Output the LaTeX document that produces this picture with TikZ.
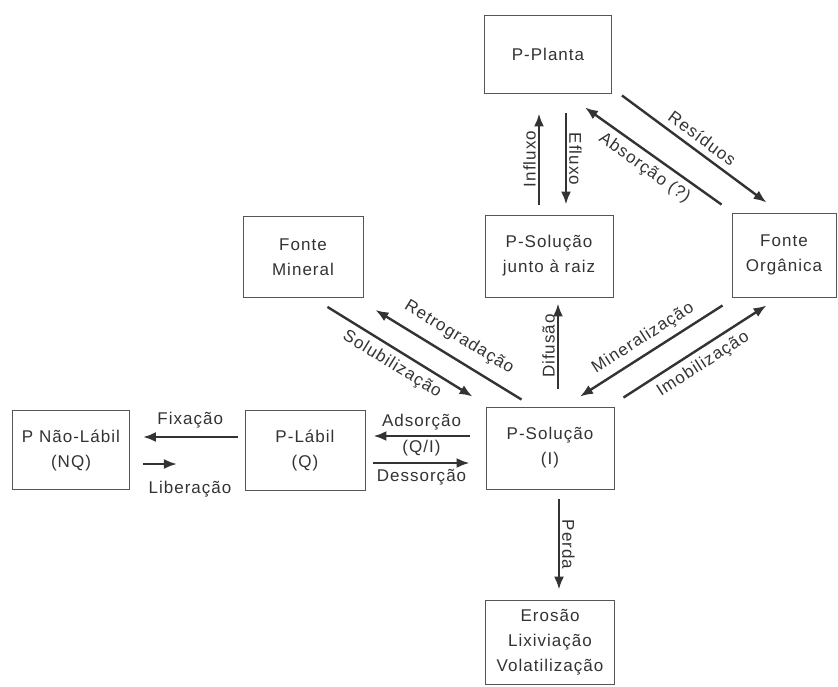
\documentclass[tikz,border=0pt]{standalone}
\usepackage{fontspec}
\setmainfont{Liberation Sans}[LetterSpace=6]
\usetikzlibrary{arrows.meta}
\definecolor{inkgray}{HTML}{333333}
\definecolor{boxgray}{HTML}{555555}
\tikzset{
    pool/.style={draw=boxgray, line width=0.9pt, align=center, inner sep=0pt,
        text=inkgray, font=\fontsize{17}{25}\selectfont},
    flux/.style={draw=inkgray, line width=2.4pt, -{Latex[length=13pt,width=10pt]}},
    lbl/.style={text=inkgray, font=\fontsize{17}{20}\selectfont, inner sep=2pt}}

\begin{document}
\begin{tikzpicture}[x=1pt, y=-1pt]

    \useasboundingbox[fill=white] (0,0) rectangle (838,686);

    % pools
    \node[pool, minimum width=127pt, minimum height=78pt] (pplanta) at (548,54) {P-Planta};
    \node[pool, minimum width=128pt, minimum height=82pt] (pjunto) at (549,256) {P-Solução\\junto à raiz};
    \node[pool, minimum width=104pt, minimum height=84pt] (forg) at (784,255) {Fonte\\Orgânica};
    \node[pool, minimum width=120pt, minimum height=81pt] (fmin) at (303,257) {Fonte\\Mineral};
    \node[pool, minimum width=128pt, minimum height=82pt] (psol) at (550,448) {P-Solução\\(I)};
    \node[pool, minimum width=129pt, minimum height=84pt] (perdas) at (550,642) {Erosão\\Lixiviação\\Volatilização};
    \node[pool, minimum width=120pt, minimum height=80pt] (plabil) at (305,450) {P-Lábil\\(Q)};
    \node[pool, minimum width=117pt, minimum height=79pt] (pnlabil) at (71,450) {P Não-Lábil\\(NQ)};

    % plant - root solution
    \draw[flux] ([shift={(-10,-10)}]pjunto.north) -- ([shift={(-9,20)}]pplanta.south)
        node[midway, lbl, rotate=90, above] {Influxo};
    \draw[flux] ([shift={(18,20)}]pplanta.south) -- ([shift={(17,-10)}]pjunto.north)
        node[midway, lbl, rotate=-90, above] {Efluxo};

    % plant - organic source
    \draw[flux] ([shift={(-10,-8)}]forg.north west) -- ([shift={(-27,14)}]pplanta.south east)
        node[midway, lbl, sloped, below=4pt] {Absorção (?)};
    \draw[flux] ([shift={(10,2)}]pplanta.south east) -- ([shift={(35,-10)}]forg.north west)
        node[midway, lbl, sloped, above=4pt] {Resíduos};

    % mineral source
    \draw[flux] ([shift={(36,-7)}]psol.north west) -- ([shift={(12,12)}]fmin.south east)
        node[midway, lbl, sloped, above=9pt] {Retrogradação};
    \draw[flux] ([shift={(-36,9)}]fmin.south east) -- ([shift={(-13,-10)}]psol.north west)
        node[midway, lbl, sloped, below=4pt] {Solubilização};

    % diffusion
    \draw[flux] ([shift={(8,-18)}]psol.north) -- ([shift={(9,6)}]pjunto.south)
        node[midway, lbl, rotate=90, above] {Difusão};

    % organic source
    \draw[flux] ([shift={(-9,8)}]forg.south west) -- ([shift={(30,-10)}]psol.north)
        node[midway, lbl, sloped, above=4pt] {Mineralização};
    \draw[flux] ([shift={(9,-9)}]psol.north east) -- ([shift={(35,8)}]forg.south west)
        node[midway, lbl, sloped, below=4pt] {Imobilização};

    % labile pool
    \draw[flux] ([shift={(-16,-12)}]psol.west) -- ([shift={(8,-14)}]plabil.east)
        node[midway, lbl, above=3pt] {Adsorção}
        node[midway, lbl, below=1pt] {(Q/I)};
    \draw[flux] ([shift={(8,13)}]plabil.east) -- ([shift={(-16,15)}]psol.west)
        node[midway, lbl, below=3pt] {Dessorção};

    % non-labile pool
    \draw[flux] ([shift={(-7,-13)}]plabil.west) -- ([shift={(13,-13)}]pnlabil.east)
        node[midway, lbl, above=6pt] (fixlbl) {Fixação};
    \coordinate (libend) at ([shift={(47,14)}]pnlabil.east);
    \draw[flux] ([shift={(13,14)}]pnlabil.east) -- (libend);
    \node[lbl] (liblbl) at (190,489) {Liberação};

    % losses
    \draw[flux] ([shift={(9,10)}]psol.south) -- ([shift={(9,-10)}]perdas.north)
        node[midway, lbl, rotate=-90, above] {Perda};

\end{tikzpicture}
\end{document}
